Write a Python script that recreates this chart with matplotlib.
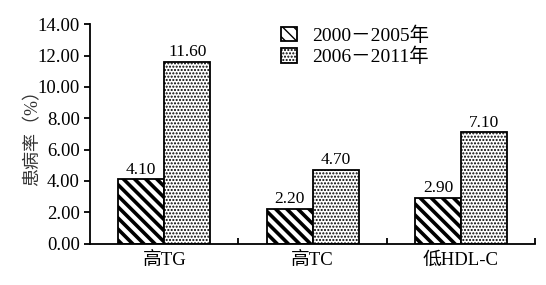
import numpy as np
import matplotlib
matplotlib.use("Agg")
import matplotlib.pyplot as plt

plt.rcParams['font.family'] = ['Liberation Serif', 'Noto Sans CJK SC']

categories = ["高TG", "高TC", "低HDL-C"]
series_names = ["2000－2005年", "2006－2011年"]
rate_2000_2005 = [4.10, 2.20, 2.90]
rate_2006_2011 = [11.60, 4.70, 7.10]
y_ticks = [0, 2, 4, 6, 8, 10, 12, 14]

fig = plt.figure(figsize=(5.46, 2.85), dpi=100)
ax = fig.add_axes([0.165, 0.145, 0.815, 0.77])

x = np.arange(len(categories))
w = 0.31

with plt.rc_context({'hatch.linewidth': 2.6}):
    b1 = ax.bar(x - w / 2, rate_2000_2005, w, color='white', edgecolor='black',
                hatch='\\\\\\', linewidth=1.3, label=series_names[0])
with plt.rc_context({'hatch.linewidth': 1.0}):
    b2 = ax.bar(x + w / 2, rate_2006_2011, w, color='white', edgecolor='black',
                hatch='.....', linewidth=1.3, label=series_names[1])

for bars, vals in ((b1, rate_2000_2005), (b2, rate_2006_2011)):
    for bar, v in zip(bars, vals):
        ax.text(bar.get_x() + bar.get_width() / 2, v + 0.12, f"{v:.2f}",
                ha='center', va='bottom', fontsize=12.5)

ax.set_xlim(-0.5, 2.5)
ax.set_ylim(0, 14)
ax.set_yticks(y_ticks)
ax.set_yticklabels([f"{t:.2f}" for t in y_ticks], fontsize=13.5)
ax.set_xticks(x)
ax.set_xticklabels(categories, fontsize=13.5)
ax.tick_params(axis='x', length=0, pad=6)
ax.tick_params(axis='y', length=4, width=1.3, direction='out')
# boundary ticks on the x axis
ax.set_xticks([0.5, 1.5, 2.5], minor=True)
ax.tick_params(axis='x', which='minor', length=4, width=1.3, direction='in')

ax.spines['top'].set_visible(False)
ax.spines['right'].set_visible(False)
ax.spines['left'].set_linewidth(1.3)
ax.spines['bottom'].set_linewidth(1.3)

ax.set_ylabel("患病率（%）", fontsize=13, color='#333333')
ax.yaxis.set_label_coords(-0.11, 0.5)

ax.legend(loc='upper left', bbox_to_anchor=(0.39, 1.07), frameon=False,
          fontsize=14, handlelength=0.8, handleheight=0.8, handletextpad=0.8,
          labelspacing=0.15)

fig.savefig("out.png", dpi=100)
